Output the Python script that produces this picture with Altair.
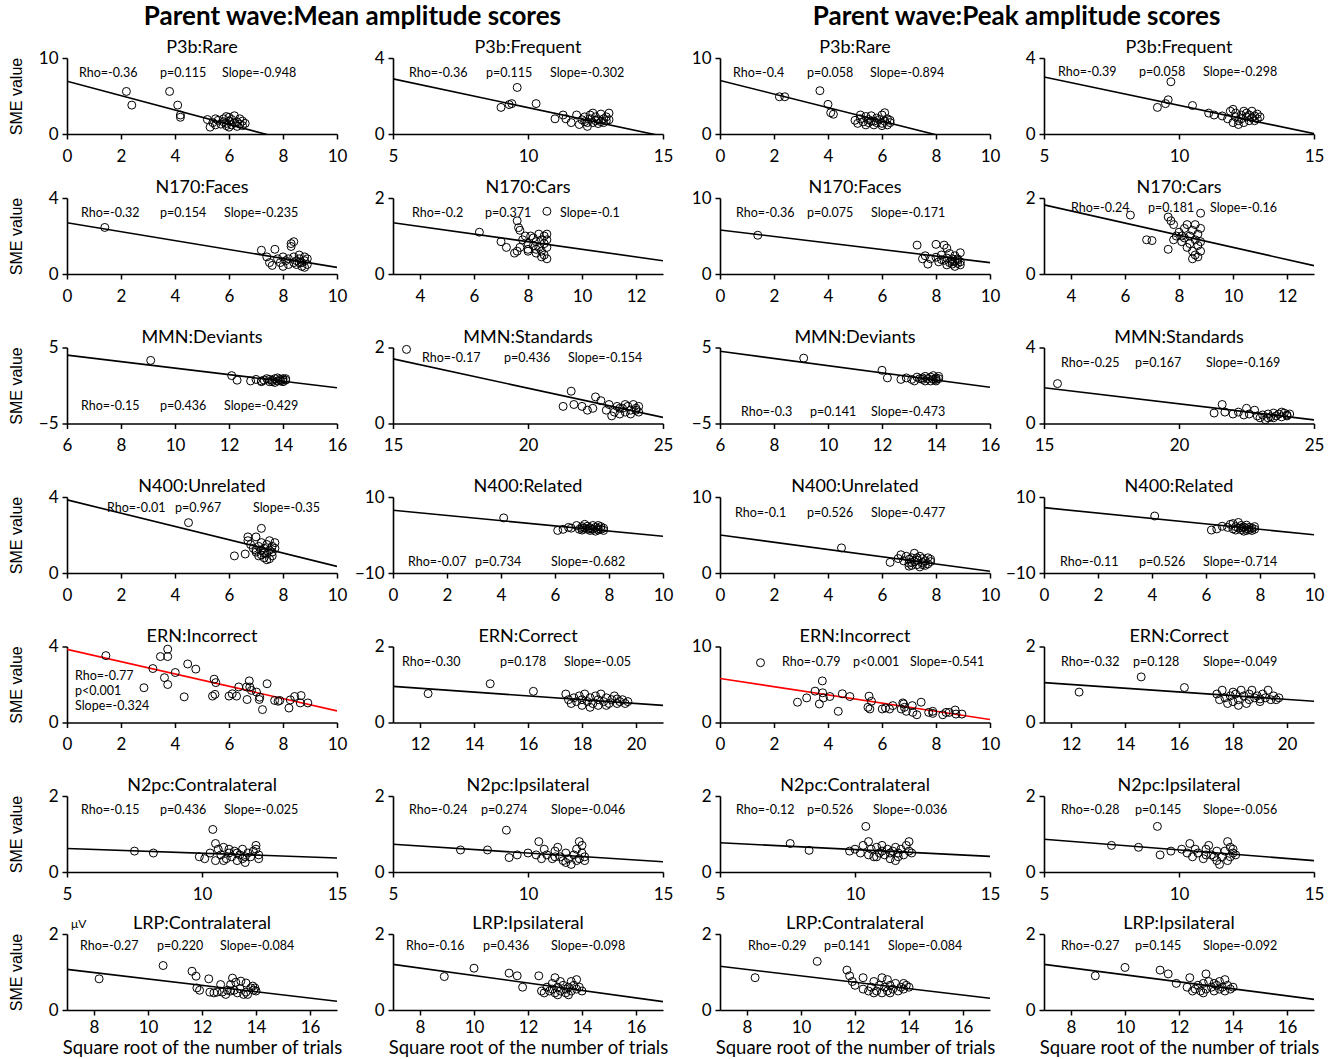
import altair as alt
import pandas as pd

HUM = "Lato, Liberation Sans, sans-serif"
SANS = "Liberation Sans, Arial, sans-serif"

# ---------------------------------------------------------------- panel text
panel_titles = [
    "P3b:Rare", "P3b:Frequent", "P3b:Rare", "P3b:Frequent",
    "N170:Faces", "N170:Cars", "N170:Faces", "N170:Cars",
    "MMN:Deviants", "MMN:Standards", "MMN:Deviants", "MMN:Standards",
    "N400:Unrelated", "N400:Related", "N400:Unrelated", "N400:Related",
    "ERN:Incorrect", "ERN:Correct", "ERN:Incorrect", "ERN:Correct",
    "N2pc:Contralateral", "N2pc:Ipsilateral", "N2pc:Contralateral", "N2pc:Ipsilateral",
    "LRP:Contralateral", "LRP:Ipsilateral", "LRP:Contralateral", "LRP:Ipsilateral",
]
half_titles = ["Parent wave:Mean amplitude scores", "Parent wave:Peak amplitude scores"]

rho_text = [
    "Rho=-0.36", "Rho=-0.36", "Rho=-0.4", "Rho=-0.39",
    "Rho=-0.32", "Rho=-0.2", "Rho=-0.36", "Rho=-0.24",
    "Rho=-0.15", "Rho=-0.17", "Rho=-0.3", "Rho=-0.25",
    "Rho=-0.01", "Rho=-0.07", "Rho=-0.1", "Rho=-0.11",
    "Rho=-0.77", "Rho=-0.30", "Rho=-0.79", "Rho=-0.32",
    "Rho=-0.15", "Rho=-0.24", "Rho=-0.12", "Rho=-0.28",
    "Rho=-0.27", "Rho=-0.16", "Rho=-0.29", "Rho=-0.27",
]
p_text = [
    "p=0.115", "p=0.115", "p=0.058", "p=0.058",
    "p=0.154", "p=0.371", "p=0.075", "p=0.181",
    "p=0.436", "p=0.436", "p=0.141", "p=0.167",
    "p=0.967", "p=0.734", "p=0.526", "p=0.526",
    "p<0.001", "p=0.178", "p<0.001", "p=0.128",
    "p=0.436", "p=0.274", "p=0.526", "p=0.145",
    "p=0.220", "p=0.436", "p=0.141", "p=0.145",
]
slope_text = [
    "Slope=-0.948", "Slope=-0.302", "Slope=-0.894", "Slope=-0.298",
    "Slope=-0.235", "Slope=-0.1", "Slope=-0.171", "Slope=-0.16",
    "Slope=-0.429", "Slope=-0.154", "Slope=-0.473", "Slope=-0.169",
    "Slope=-0.35", "Slope=-0.682", "Slope=-0.477", "Slope=-0.714",
    "Slope=-0.324", "Slope=-0.05", "Slope=-0.541", "Slope=-0.049",
    "Slope=-0.025", "Slope=-0.046", "Slope=-0.036", "Slope=-0.056",
    "Slope=-0.084", "Slope=-0.098", "Slope=-0.084", "Slope=-0.092",
]

# ---------------------------------------------------------------- axes
# x range per row, (first panel of a pair, second panel of a pair)
row_x_domains = [
    [(0, 10), (5, 15)], [(0, 10), (3, 13)], [(6, 16), (15, 25)],
    [(0, 10), (0, 10)], [(0, 10), (11, 21)], [(5, 15), (5, 15)], [(7, 17), (7, 17)],
]
row_x_ticks = [
    [[0, 2, 4, 6, 8, 10], [5, 10, 15]],
    [[0, 2, 4, 6, 8, 10], [4, 6, 8, 10, 12]],
    [[6, 8, 10, 12, 14, 16], [15, 20, 25]],
    [[0, 2, 4, 6, 8, 10], [0, 2, 4, 6, 8, 10]],
    [[0, 2, 4, 6, 8, 10], [12, 14, 16, 18, 20]],
    [[5, 10, 15], [5, 10, 15]],
    [[8, 10, 12, 14, 16], [8, 10, 12, 14, 16]],
]
y_domains = [
    (0, 10), (0, 4), (0, 10), (0, 4),
    (0, 4), (0, 2), (0, 10), (0, 2),
    (-5, 5), (0, 2), (-5, 5), (0, 4),
    (0, 4), (-10, 10), (0, 10), (-10, 10),
    (0, 4), (0, 2), (0, 10), (0, 2),
    (0, 2), (0, 2), (0, 2), (0, 2),
    (0, 2), (0, 2), (0, 2), (0, 2),
]
y_tick_sets = {
    (0, 10): [0, 5, 10], (0, 4): [0, 2, 4], (0, 2): [0, 1, 2],
    (-5, 5): [-5, 0, 5], (-10, 10): [-10, 0, 10],
}

# ---------------------------------------------------------------- fit lines
# value of the fitted line at the left end of the x range, and its slope
line_start = [
    6.95, 2.9, 7.05, 3.0,
    2.7, 1.35, 5.8, 1.82,
    4.0, 1.7, 4.5, 1.88,
    3.85, 6.5, 5.0, 7.2,
    3.85, 0.95, 5.8, 1.05,
    0.62, 0.73, 0.77, 0.86,
    1.07, 1.2, 1.15, 1.2,
]
line_slope = [
    -0.948, -0.302, -0.894, -0.298,
    -0.235, -0.1, -0.43, -0.16,
    -0.429, -0.154, -0.473, -0.169,
    -0.35, -0.682, -0.477, -0.714,
    -0.324, -0.05, -0.541, -0.049,
    -0.025, -0.046, -0.036, -0.056,
    -0.084, -0.098, -0.084, -0.092,
]

# ---------------------------------------------------------------- subjects (sqrt trials, SME)
mean_p3b_rare = [(2.2, 5.6), (2.4, 3.8), (3.8, 5.6), (4.1, 3.8), (4.2, 2.5), (4.2, 2.2),
                 (5.2, 1.9), (5.3, 0.9), (5.4, 1.5), (5.5, 1.2), (5.5, 2.0), (5.6, 1.8),
                 (5.7, 1.3), (5.8, 1.6), (5.8, 2.0), (5.9, 1.1), (5.9, 1.4), (5.9, 2.3),
                 (6.0, 1.7), (6.0, 2.2), (6.0, 0.9), (6.1, 1.2), (6.1, 1.9), (6.2, 1.5),
                 (6.2, 2.4), (6.3, 1.0), (6.3, 1.6), (6.4, 1.3), (6.4, 2.0), (6.5, 1.1),
                 (6.5, 1.7), (6.6, 1.4)]
mean_p3b_freq = [(9.0, 1.4), (9.3, 1.55), (9.4, 1.6), (9.6, 2.45), (10.3, 1.6), (11.0, 0.8),
                 (11.3, 1.0), (11.4, 0.8), (11.6, 0.6), (11.8, 1.0), (11.9, 0.5), (12.0, 0.75),
                 (12.1, 0.9), (12.2, 0.6), (12.3, 0.8), (12.3, 1.0), (12.4, 0.6), (12.5, 0.7),
                 (12.5, 0.9), (12.6, 0.55), (12.6, 0.75), (12.7, 0.65), (12.7, 1.05), (12.8, 0.8),
                 (12.8, 0.6), (12.9, 0.7), (12.9, 0.9), (13.0, 0.75), (13.0, 1.1), (12.2, 0.4),
                 (12.4, 1.1), (12.1, 0.65)]
peak_p3b_rare = [(2.2, 4.9), (2.4, 4.9), (3.7, 5.7), (4.0, 3.9), (4.1, 2.8), (4.2, 2.6),
                 (5.0, 1.8), (5.1, 1.4), (5.2, 2.0), (5.3, 1.6), (5.4, 2.3), (5.5, 1.5),
                 (5.5, 1.9), (5.6, 2.4), (5.7, 1.2), (5.7, 1.7), (5.8, 2.1), (5.8, 1.5),
                 (5.9, 1.9), (6.0, 2.5), (6.0, 1.4), (6.1, 1.7), (6.1, 2.8), (6.2, 1.2),
                 (6.2, 2.0), (6.3, 1.5), (6.3, 1.8), (5.4, 1.2), (5.6, 1.7), (6.0, 1.1),
                 (5.2, 2.5)]
peak_p3b_freq = [(9.2, 1.4), (9.5, 1.6), (9.6, 1.8), (9.7, 2.75), (10.5, 1.5), (11.1, 1.1),
                 (11.3, 1.0), (11.6, 0.95), (11.8, 0.8), (11.9, 1.2), (12.0, 0.6), (12.1, 0.9),
                 (12.1, 1.1), (12.2, 0.7), (12.3, 1.0), (12.3, 0.8), (12.4, 1.2), (12.4, 0.6),
                 (12.5, 0.9), (12.5, 1.1), (12.6, 0.7), (12.6, 1.0), (12.7, 0.85), (12.7, 1.2),
                 (12.8, 0.7), (12.8, 0.95), (12.9, 1.05), (12.9, 0.8), (13.0, 0.9), (12.0, 1.3),
                 (12.2, 0.5)]

mean_n170_faces = [(1.4, 2.45), (7.2, 1.25), (7.4, 0.9), (7.5, 0.6), (7.6, 0.45), (7.7, 1.3),
                   (7.8, 0.8), (7.9, 0.6), (8.0, 0.9), (8.1, 0.7), (8.2, 0.5), (8.3, 1.6),
                   (8.3, 1.45), (8.4, 0.9), (8.4, 1.7), (8.5, 0.7), (8.5, 0.5), (8.6, 0.8),
                   (8.6, 1.0), (8.7, 0.6), (8.7, 0.4), (8.8, 0.9), (8.8, 0.7), (8.9, 0.5),
                   (8.9, 0.8), (8.4, 0.6), (8.2, 0.8), (8.0, 0.4), (8.6, 0.6), (8.8, 0.35)]
mean_n170_cars = [(6.2, 1.1), (7.0, 0.85), (7.2, 0.7), (7.5, 0.55), (7.6, 1.4), (7.65, 1.22),
                  (7.7, 1.15), (7.6, 0.6), (7.7, 0.7), (7.8, 0.9), (7.9, 1.0), (8.0, 0.8),
                  (8.0, 0.6), (8.1, 1.0), (8.2, 0.75), (8.2, 0.95), (8.3, 0.55), (8.3, 0.85),
                  (8.4, 0.7), (8.4, 1.05), (8.5, 0.6), (8.5, 0.9), (8.6, 0.8), (8.6, 1.0),
                  (8.6, 0.5), (8.7, 0.4), (8.7, 0.7), (8.7, 0.9), (8.7, 1.05), (8.0, 0.65),
                  (8.3, 0.65), (8.5, 0.45), (8.7, 1.65)]
peak_n170_faces = [(1.4, 5.1), (7.3, 3.8), (7.5, 2.0), (7.6, 2.4), (7.7, 1.3), (7.8, 2.0),
                   (8.0, 3.9), (8.0, 2.2), (8.1, 1.6), (8.2, 2.5), (8.3, 1.8), (8.3, 3.8),
                   (8.4, 3.4), (8.4, 2.1), (8.5, 1.5), (8.5, 2.7), (8.6, 2.0), (8.6, 1.3),
                   (8.7, 2.4), (8.7, 1.7), (8.8, 2.0), (8.8, 1.4), (8.9, 2.8), (8.9, 1.2),
                   (8.8, 1.8), (8.6, 1.6), (8.4, 1.2), (8.2, 1.9), (8.9, 1.6), (8.7, 1.0)]
peak_n170_cars = [(6.2, 1.55), (6.8, 0.9), (7.0, 0.88), (7.6, 0.65), (7.6, 1.5), (7.7, 1.4),
                  (7.8, 0.9), (7.9, 1.0), (7.8, 1.3), (8.0, 1.1), (8.1, 0.85), (8.2, 1.2),
                  (8.2, 0.95), (8.3, 0.7), (8.3, 1.3), (8.4, 1.0), (8.4, 0.8), (8.5, 1.15),
                  (8.5, 0.6), (8.6, 0.9), (8.6, 0.5), (8.6, 1.3), (8.7, 0.75), (8.7, 0.45),
                  (8.7, 1.05), (8.8, 1.6), (8.8, 1.2), (8.8, 0.85), (8.8, 0.6), (8.1, 1.0),
                  (8.5, 0.4)]

mean_mmn_dev = [(9.1, 3.3), (12.1, 1.3), (12.3, 0.7), (12.8, 0.6), (13.0, 0.8), (13.2, 0.6),
                (13.4, 0.9), (13.5, 0.5), (13.6, 0.7), (13.7, 0.9), (13.8, 0.6), (13.9, 0.8),
                (14.0, 0.5), (14.0, 0.9), (14.1, 0.7), (13.6, 0.5), (13.8, 1.0), (13.3, 0.7),
                (13.7, 0.4), (13.9, 0.6), (14.1, 0.9), (13.5, 0.8), (13.2, 0.5), (14.0, 0.7)]
mean_mmn_std = [(15.5, 1.95), (21.3, 0.45), (21.6, 0.85), (21.7, 0.5), (22.0, 0.45), (22.2, 0.35),
                (22.4, 0.4), (22.5, 0.7), (22.7, 0.6), (22.9, 0.35), (23.0, 0.5), (23.1, 0.2),
                (23.2, 0.3), (23.3, 0.45), (23.4, 0.25), (23.5, 0.4), (23.6, 0.3), (23.7, 0.45),
                (23.8, 0.35), (23.9, 0.5), (24.0, 0.4), (24.1, 0.3), (24.1, 0.45), (23.8, 0.25),
                (23.6, 0.5), (24.0, 0.35), (23.4, 0.4)]
peak_mmn_dev = [(9.1, 3.6), (12.0, 2.0), (12.2, 1.0), (12.7, 0.8), (12.9, 1.0), (13.1, 0.8),
                (13.2, 0.6), (13.3, 1.1), (13.5, 0.8), (13.6, 1.2), (13.7, 0.9), (13.8, 0.6),
                (13.8, 1.1), (13.9, 0.8), (14.0, 1.0), (14.0, 0.6), (14.1, 0.9), (14.1, 1.2),
                (13.4, 0.9), (13.6, 0.6), (13.9, 1.3), (13.5, 1.0), (14.0, 0.8)]
peak_mmn_std = [(15.5, 2.1), (21.3, 0.55), (21.6, 1.0), (21.7, 0.6), (22.0, 0.5), (22.2, 0.6),
                (22.4, 0.45), (22.5, 0.8), (22.6, 0.5), (22.8, 0.7), (22.9, 0.4), (23.0, 0.3),
                (23.1, 0.45), (23.2, 0.2), (23.3, 0.5), (23.4, 0.35), (23.5, 0.55), (23.6, 0.4),
                (23.7, 0.5), (23.8, 0.35), (23.9, 0.55), (24.0, 0.45), (24.1, 0.5), (23.5, 0.3),
                (23.8, 0.6), (24.0, 0.4), (23.3, 0.3)]

mean_n400_unrel = [(4.5, 2.65), (6.2, 0.9), (6.6, 1.0), (6.7, 1.7), (6.7, 1.9), (6.8, 1.5),
                   (6.9, 1.3), (7.0, 1.9), (7.0, 1.1), (7.1, 1.4), (7.1, 0.9), (7.2, 1.2),
                   (7.2, 1.6), (7.2, 2.35), (7.3, 0.8), (7.3, 1.3), (7.4, 1.0), (7.4, 1.5),
                   (7.4, 0.7), (7.5, 1.2), (7.5, 1.7), (7.6, 0.9), (7.6, 1.4), (7.6, 1.1),
                   (7.7, 1.3), (7.7, 1.6), (7.3, 1.05), (7.0, 1.2), (7.5, 0.75), (7.2, 0.95)]
mean_n400_rel = [(4.1, 4.5), (6.1, 1.2), (6.3, 1.5), (6.5, 2.0), (6.6, 1.8), (6.8, 2.5),
                 (6.9, 1.5), (7.0, 2.2), (7.0, 1.3), (7.1, 2.8), (7.1, 1.8), (7.2, 1.5),
                 (7.2, 2.3), (7.3, 1.2), (7.3, 1.9), (7.4, 2.5), (7.4, 1.5), (7.5, 1.0),
                 (7.5, 2.0), (7.6, 1.7), (7.6, 1.3), (7.7, 2.2), (7.7, 1.5), (7.8, 1.8),
                 (7.8, 1.2), (7.6, 2.5), (7.3, 1.6), (7.0, 1.8)]
peak_n400_unrel = [(4.5, 3.3), (6.3, 1.4), (6.6, 1.9), (6.7, 2.4), (6.8, 1.6), (6.9, 2.2),
                   (7.0, 1.3), (7.0, 1.8), (7.1, 2.0), (7.1, 1.0), (7.2, 2.6), (7.2, 1.5),
                   (7.3, 1.1), (7.3, 1.7), (7.4, 2.2), (7.4, 0.8), (7.5, 1.4), (7.5, 1.9),
                   (7.6, 1.0), (7.6, 1.6), (7.7, 1.2), (7.7, 2.0), (7.8, 1.5), (7.8, 1.8),
                   (7.1, 1.4), (7.3, 2.0), (7.5, 1.1), (7.0, 0.9)]
peak_n400_rel = [(4.1, 5.0), (6.2, 1.3), (6.4, 1.6), (6.6, 2.3), (6.8, 2.0), (6.9, 2.8),
                 (7.0, 1.6), (7.0, 3.0), (7.1, 2.2), (7.1, 1.3), (7.2, 3.3), (7.2, 1.8),
                 (7.3, 2.5), (7.3, 1.4), (7.4, 2.1), (7.4, 1.0), (7.5, 1.7), (7.5, 2.6),
                 (7.6, 1.4), (7.6, 2.0), (7.7, 1.2), (7.7, 1.8), (7.8, 1.5), (7.8, 2.2),
                 (7.3, 1.9), (7.5, 1.2)]

mean_ern_inc = [(1.44, 3.52), (2.85, 1.83), (3.18, 2.84), (3.46, 3.47), (3.73, 3.86), (3.73, 3.47),
                (3.61, 2.36), (3.73, 2.0), (4.01, 2.63), (4.34, 1.35), (4.47, 3.08), (4.77, 2.81),
                (5.45, 2.28), (5.51, 2.10), (5.39, 1.39), (5.48, 1.48), (6.0, 1.39), (6.12, 1.51),
                (6.28, 1.39), (6.36, 1.87), (6.65, 1.87), (6.75, 2.19), (6.77, 1.87), (6.83, 1.69),
                (6.67, 1.21), (7.02, 1.60), (7.12, 1.21), (7.14, 1.33), (7.24, 0.68), (7.41, 2.04),
                (7.69, 1.16), (7.82, 1.12), (7.88, 1.16), (8.22, 0.76), (8.27, 1.19), (8.43, 1.37),
                (8.67, 1.42), (8.64, 1.03), (8.92, 1.03)]
mean_ern_cor = [(12.3, 0.76), (14.6, 1.02), (16.2, 0.82), (17.4, 0.75), (17.5, 0.6), (17.6, 0.5),
                (17.7, 0.65), (17.8, 0.55), (17.9, 0.7), (18.0, 0.45), (18.0, 0.6), (18.1, 0.75),
                (18.2, 0.55), (18.3, 0.65), (18.4, 0.5), (18.5, 0.7), (18.6, 0.6), (18.6, 0.45),
                (18.7, 0.75), (18.8, 0.55), (18.9, 0.65), (19.0, 0.5), (19.1, 0.6), (19.2, 0.7),
                (19.3, 0.5), (19.4, 0.55), (19.5, 0.6), (19.6, 0.5), (19.7, 0.55), (18.3, 0.4),
                (18.9, 0.45), (19.3, 0.62)]
peak_ern_inc = [(1.50, 7.87), (2.87, 2.67), (3.21, 3.24), (3.52, 4.13), (3.68, 2.44), (3.79, 5.47),
                (3.80, 3.91), (3.83, 3.24), (4.07, 3.42), (4.38, 1.47), (4.53, 3.78), (4.81, 3.42),
                (5.52, 3.47), (5.61, 2.8), (5.48, 2.0), (5.55, 1.78), (6.01, 1.78), (6.13, 1.91),
                (6.28, 1.78), (6.40, 2.22), (6.71, 1.78), (6.77, 2.58), (6.80, 2.44), (6.83, 2.0),
                (6.90, 1.47), (7.12, 2.22), (7.14, 1.33), (7.29, 1.02), (7.45, 2.67), (7.73, 1.33),
                (7.88, 1.2), (7.88, 1.47), (8.25, 1.02), (8.37, 1.33), (8.49, 1.33), (8.71, 1.64),
                (8.74, 1.11), (8.96, 1.11)]
peak_ern_cor = [(12.3, 0.8), (14.6, 1.2), (16.2, 0.92), (17.4, 0.75), (17.5, 0.6), (17.6, 0.85),
                (17.7, 0.65), (17.8, 0.5), (17.9, 0.7), (18.0, 0.8), (18.0, 0.55), (18.1, 0.75),
                (18.2, 0.6), (18.3, 0.85), (18.4, 0.7), (18.5, 0.5), (18.6, 0.75), (18.6, 0.6),
                (18.7, 0.85), (18.8, 0.65), (18.9, 0.7), (19.0, 0.55), (19.1, 0.75), (19.2, 0.65),
                (19.3, 0.85), (19.4, 0.6), (19.5, 0.7), (19.6, 0.6), (19.7, 0.65), (18.2, 0.45),
                (19.0, 0.62)]

mean_n2pc_contra = [(7.5, 0.55), (8.2, 0.5), (9.9, 0.4), (10.1, 0.35), (10.3, 0.5), (10.4, 1.12),
                    (10.5, 0.75), (10.5, 0.3), (10.6, 0.6), (10.7, 0.45), (10.8, 0.65), (10.9, 0.35),
                    (11.0, 0.5), (11.1, 0.4), (11.2, 0.55), (11.3, 0.3), (11.4, 0.45), (11.5, 0.35),
                    (11.5, 0.6), (11.6, 0.25), (11.7, 0.5), (11.8, 0.4), (11.9, 0.55), (12.0, 0.7),
                    (12.1, 0.45), (12.1, 0.35), (12.0, 0.6), (11.0, 0.6), (10.8, 0.3), (11.3, 0.5),
                    (11.6, 0.4)]
mean_n2pc_ipsi = [(7.5, 0.58), (8.5, 0.58), (9.2, 1.1), (9.3, 0.38), (9.6, 0.45), (10.0, 0.5),
                  (10.3, 0.45), (10.4, 0.8), (10.5, 0.35), (10.6, 0.6), (10.7, 0.45), (10.9, 0.35),
                  (11.0, 0.55), (11.1, 0.65), (11.2, 0.4), (11.3, 0.3), (11.4, 0.5), (11.5, 0.35),
                  (11.6, 0.2), (11.7, 0.45), (11.8, 0.6), (11.9, 0.8), (11.9, 0.35), (12.0, 0.5),
                  (12.0, 0.7), (12.1, 0.3), (12.1, 0.4), (11.0, 0.4), (11.4, 0.25), (11.8, 0.3)]
peak_n2pc_contra = [(7.6, 0.75), (8.3, 0.57), (9.8, 0.55), (10.0, 0.6), (10.2, 0.5), (10.3, 0.7),
                    (10.4, 1.2), (10.5, 0.8), (10.5, 0.45), (10.6, 0.6), (10.7, 0.4), (10.8, 0.65),
                    (10.9, 0.5), (11.0, 0.7), (11.1, 0.45), (11.2, 0.6), (11.3, 0.35), (11.4, 0.55),
                    (11.5, 0.65), (11.5, 0.3), (11.6, 0.5), (11.7, 0.6), (11.8, 0.45), (11.9, 0.7),
                    (12.0, 0.55), (12.0, 0.8), (12.1, 0.5), (11.0, 0.55), (10.8, 0.4), (11.3, 0.5),
                    (11.6, 0.4)]
peak_n2pc_ipsi = [(7.5, 0.7), (8.5, 0.65), (9.2, 1.2), (9.3, 0.45), (9.7, 0.55), (10.1, 0.6),
                  (10.3, 0.5), (10.4, 0.75), (10.5, 0.4), (10.6, 0.6), (10.7, 0.5), (10.9, 0.35),
                  (11.0, 0.6), (11.1, 0.7), (11.2, 0.45), (11.3, 0.4), (11.4, 0.55), (11.5, 0.2),
                  (11.6, 0.4), (11.7, 0.55), (11.8, 0.8), (11.9, 0.65), (11.9, 0.4), (12.0, 0.5),
                  (12.0, 0.6), (12.1, 0.45), (11.0, 0.45), (11.4, 0.3), (11.8, 0.3)]

mean_lrp_contra = [(8.19, 0.82), (10.56, 1.17), (11.63, 1.02), (11.78, 0.89), (11.81, 0.58), (11.91, 0.52),
                   (12.25, 0.82), (12.29, 0.47), (12.44, 0.45), (12.56, 0.47), (12.69, 0.67), (12.75, 0.47),
                   (12.88, 0.41), (12.94, 0.52), (13.06, 0.67), (13.13, 0.84), (13.19, 0.52), (13.25, 0.73),
                   (13.31, 0.45), (13.41, 0.56), (13.44, 0.76), (13.54, 0.41), (13.63, 0.47), (13.69, 0.41),
                   (13.81, 0.58), (13.88, 0.63), (13.91, 0.52), (14.0, 0.50), (13.96, 0.58), (13.06, 0.5),
                   (13.63, 0.71)]
mean_lrp_ipsi = [(8.9, 0.88), (10.0, 1.1), (11.3, 0.97), (11.6, 0.9), (11.8, 0.6), (12.4, 0.9),
                 (12.5, 0.5), (12.6, 0.45), (12.7, 0.6), (12.8, 0.5), (12.9, 0.7), (13.0, 0.85),
                 (13.0, 0.45), (13.1, 0.6), (13.2, 0.75), (13.2, 0.5), (13.3, 0.65), (13.4, 0.45),
                 (13.4, 0.55), (13.5, 0.6), (13.6, 0.75), (13.6, 0.5), (13.7, 0.65), (13.8, 0.55),
                 (13.8, 0.8), (13.9, 0.6), (14.0, 0.5), (13.1, 0.4), (12.9, 0.55), (13.5, 0.4)]
peak_lrp_contra = [(8.3, 0.85), (10.6, 1.28), (11.7, 1.05), (11.8, 0.9), (11.9, 0.75), (12.0, 0.65),
                   (12.3, 0.85), (12.3, 0.55), (12.5, 0.5), (12.6, 0.6), (12.7, 0.75), (12.8, 0.5),
                   (12.9, 0.65), (13.0, 0.85), (13.0, 0.45), (13.1, 0.6), (13.2, 0.8), (13.2, 0.5),
                   (13.3, 0.65), (13.4, 0.55), (13.5, 0.7), (13.6, 0.5), (13.7, 0.6), (13.8, 0.7),
                   (13.8, 0.55), (13.9, 0.65), (14.0, 0.6), (12.7, 0.45), (13.3, 0.45)]
peak_lrp_ipsi = [(8.9, 0.9), (10.0, 1.12), (11.3, 1.05), (11.6, 0.95), (11.9, 0.7), (12.3, 0.6),
                 (12.4, 0.85), (12.5, 0.5), (12.6, 0.55), (12.7, 0.65), (12.8, 0.5), (12.9, 0.7),
                 (13.0, 0.95), (13.0, 0.55), (13.1, 0.75), (13.2, 0.6), (13.3, 0.5), (13.4, 0.65),
                 (13.5, 0.75), (13.5, 0.55), (13.6, 0.6), (13.7, 0.8), (13.7, 0.5), (13.8, 0.65),
                 (13.9, 0.55), (14.0, 0.6), (12.9, 0.45), (13.3, 0.7)]

point_sets = [
    mean_p3b_rare, mean_p3b_freq, peak_p3b_rare, peak_p3b_freq,
    mean_n170_faces, mean_n170_cars, peak_n170_faces, peak_n170_cars,
    mean_mmn_dev, mean_mmn_std, peak_mmn_dev, peak_mmn_std,
    mean_n400_unrel, mean_n400_rel, peak_n400_unrel, peak_n400_rel,
    mean_ern_inc, mean_ern_cor, peak_ern_inc, peak_ern_cor,
    mean_n2pc_contra, mean_n2pc_ipsi, peak_n2pc_contra, peak_n2pc_ipsi,
    mean_lrp_contra, mean_lrp_ipsi, peak_lrp_contra, peak_lrp_ipsi,
]

# ---------------------------------------------------------------- layout
W, H = 270, 76
# pixel offsets (from the plot's top-left corner) of the Rho / p / Slope labels
stat_pos = [
    [(12, 15), (93, 15), (155, 15)], [(16, 15), (93, 15), (157, 15)],
    [(13, 15), (87, 15), (150, 15)], [(14, 14), (95, 14), (159, 14)],
    [(14, 15), (93, 15), (157, 15)], [(19, 15), (92, 15), (167, 15)],
    [(16, 15), (87, 15), (151, 15)], [(27, 10), (104, 10), (166, 10)],
    [(14, 58), (93, 58), (157, 58)], [(29, 10), (111, 10), (175, 10)],
    [(21, 64), (90, 64), (151, 64)], [(17, 15), (91, 15), (162, 15)],
    [(40, 11), (108, 11), (186, 11)], [(15, 65), (82, 65), (158, 65)],
    [(15, 16), (87, 16), (151, 16)], [(16, 65), (95, 65), (159, 65)],
    [(8, 29), (8, 44), (8, 59)], [(9, 15), (107, 15), (171, 15)],
    [(62, 15), (133, 15), (190, 15)], [(17, 15), (89, 15), (159, 15)],
    [(14, 14), (93, 14), (157, 14)], [(16, 14), (88, 14), (158, 14)],
    [(16, 14), (87, 14), (153, 14)], [(17, 14), (91, 14), (159, 14)],
    [(13, 12), (90, 12), (153, 12)], [(13, 12), (90, 12), (158, 12)],
    [(28, 12), (104, 12), (168, 12)], [(17, 12), (91, 12), (159, 12)],
]


def label_layer(text, x, y, size, align="left", baseline="middle"):
    return (
        alt.Chart(pd.DataFrame({"t": [text]}))
        .mark_text(align=align, baseline=baseline, font=HUM, fontSize=size, color="black")
        .encode(x=alt.value(x), y=alt.value(y), text="t:N")
    )


def panel(idx):
    row, col = divmod(idx, 4)
    pair_col = col % 2
    x0, x1 = row_x_domains[row][pair_col]
    y0, y1 = y_domains[idx]

    if row == 6:
        xaxis = dict(values=row_x_ticks[row][pair_col], labelPadding=4,
                     title="Square root of the number of trials", titleFont=HUM,
                     titleFontSize=18.5, titleFontWeight="normal", titlePadding=3)
    else:
        xaxis = dict(values=row_x_ticks[row][pair_col], labelPadding=9, title=None)
    yaxis = dict(values=y_tick_sets[(y0, y1)], minExtent=26, maxExtent=26, labelPadding=4)
    if col == 0:
        yaxis.update(title="SME value", titleFont=SANS, titleFontSize=16,
                     titleFontWeight="normal", titlePadding=17)
    else:
        yaxis.update(title=None)

    pts = pd.DataFrame(point_sets[idx], columns=["x", "y"])
    b0 = line_start[idx]
    fit_df = pd.DataFrame({"x": [x0, x1], "y": [b0, b0 + line_slope[idx] * (x1 - x0)]})

    xenc = alt.X("x:Q", scale=alt.Scale(domain=[x0, x1], nice=False, zero=False), axis=alt.Axis(**xaxis))
    yenc = alt.Y("y:Q", scale=alt.Scale(domain=[y0, y1], nice=False, zero=False), axis=alt.Axis(**yaxis))

    line_color = "#ff0000" if panel_titles[idx] == "ERN:Incorrect" else "black"
    fit = alt.Chart(fit_df).mark_line(color=line_color, strokeWidth=1.6, clip=True).encode(x=xenc, y=yenc)
    dots = alt.Chart(pts).mark_point(shape="circle", filled=False, size=64, color="black",
                                     strokeWidth=1, opacity=1).encode(x="x:Q", y="y:Q")
    layers = [fit, dots, label_layer(panel_titles[idx], W / 2, -5, 18, "center", "alphabetic")]
    for label, (dx, dy) in zip((rho_text[idx], p_text[idx], slope_text[idx]), stat_pos[idx]):
        layers.append(label_layer(label, dx, dy, 12.5))
    if idx == 24:
        layers.append(label_layer("μV", 4, -10, 12))
    return alt.layer(*layers).properties(width=W, height=H)


def column(c):
    cells = [panel(r * 4 + c) for r in range(7)]
    middle = alt.vconcat(*cells[1:6], spacing=24.5)
    upper = alt.vconcat(cells[0], middle, spacing=15)
    return alt.vconcat(upper, cells[6], spacing=13)


def half(h, gap, shift):
    return alt.hconcat(
        column(2 * h), column(2 * h + 1), spacing=gap,
        title=alt.Title(half_titles[h], font=HUM, fontSize=26, fontWeight="bold",
                        anchor="middle", baseline="bottom", offset=-17, dx=shift, color="black"),
    )


chart = (
    alt.hconcat(half(0, 7, 12), half(1, 5, 9), spacing=18)
    .properties(padding={"left": 8, "top": 4, "right": 5, "bottom": 5}, background="white")
    .configure_view(stroke=None)
    .configure_axis(domainColor="black", domainWidth=1.6, tickColor="black", tickWidth=1.5,
                    tickSize=5, labelColor="black", labelFont=HUM, labelFontSize=17,
                    labelFlush=False, grid=False, titleColor="black")
)

chart.save("out.html", embed_options={"renderer": "svg", "actions": False})
